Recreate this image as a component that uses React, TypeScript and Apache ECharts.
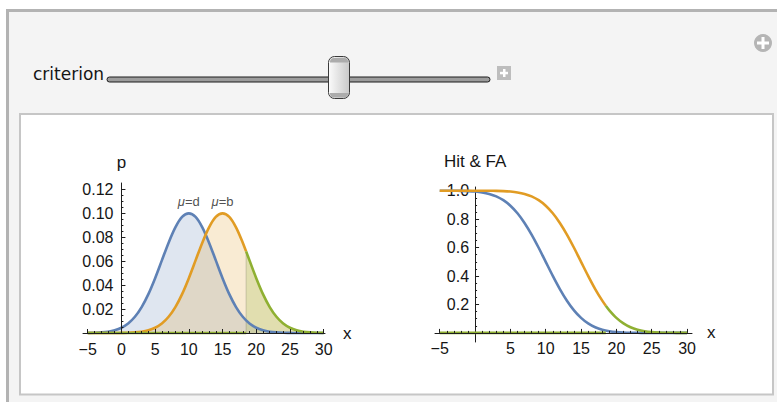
import React, { useEffect, useRef } from "react";
import * as echarts from "echarts";

// ---------- data ----------
const X_VALUES = [-5, -4, -3, -2, -1, 0, 1, 2, 3, 4, 5, 6, 7, 8, 9, 10, 11, 12, 13, 14, 15, 16, 17, 18, 19, 20, 21, 22, 23, 24, 25, 26, 27, 28, 29, 30];
// density of the "d" distribution (blue, mu = d)
const PDF_D = [0.0001, 0.0002, 0.0005, 0.0011, 0.0023, 0.0044, 0.0079, 0.0135, 0.0216, 0.0324, 0.0457, 0.0605, 0.0753, 0.088, 0.0967, 0.0997, 0.0967, 0.088, 0.0753, 0.0605, 0.0457, 0.0324, 0.0216, 0.0135, 0.0079, 0.0044, 0.0023, 0.0011, 0.0005, 0.0002, 0.0001, 0, 0, 0, 0, 0];
// density of the "b" distribution (orange, mu = b)
const PDF_B = [0, 0, 0, 0, 0, 0.0001, 0.0002, 0.0005, 0.0011, 0.0023, 0.0044, 0.0079, 0.0135, 0.0216, 0.0324, 0.0457, 0.0605, 0.0753, 0.088, 0.0967, 0.0997, 0.0967, 0.088, 0.0753, 0.0605, 0.0457, 0.0324, 0.0216, 0.0135, 0.0079, 0.0044, 0.0023, 0.0011, 0.0005, 0.0002, 0.0001];
// false-alarm rate (blue) and hit rate (orange) vs criterion
const FA_RATE = [0.9999, 0.9998, 0.9994, 0.9987, 0.997, 0.9938, 0.9878, 0.9772, 0.9599, 0.9332, 0.8944, 0.8413, 0.7734, 0.6915, 0.5987, 0.5, 0.4013, 0.3085, 0.2266, 0.1587, 0.1056, 0.0668, 0.0401, 0.0228, 0.0122, 0.0062, 0.003, 0.0013, 0.0006, 0.0002, 0.0001, 0, 0, 0, 0, 0];
const HIT_RATE = [1, 1, 1, 1, 1, 0.9999, 0.9998, 0.9994, 0.9987, 0.997, 0.9938, 0.9878, 0.9772, 0.9599, 0.9332, 0.8944, 0.8413, 0.7734, 0.6915, 0.5987, 0.5, 0.4013, 0.3085, 0.2266, 0.1587, 0.1056, 0.0668, 0.0401, 0.0228, 0.0122, 0.0062, 0.003, 0.0013, 0.0006, 0.0002, 0.0001];

const CRITERION = 18.5;
const PDF_B_AT_CRITERION = 0.068;
const HIT_AT_CRITERION = 0.1908;

const MU_LABELS = ["d", "b"];
const MU_VALUES = [10, 15];
const PEAK = [0.0997, 0.0997];

const X_MAJOR_LEFT = [-5, 0, 5, 10, 15, 20, 25, 30];
const X_MAJOR_RIGHT = [-5, 5, 10, 15, 20, 25, 30];
const X_MINOR = [-4, -3, -2, -1, 1, 2, 3, 4, 6, 7, 8, 9, 11, 12, 13, 14, 16, 17, 18, 19, 21, 22, 23, 24, 26, 27, 28, 29];
const Y_MAJOR_LEFT = [0.02, 0.04, 0.06, 0.08, 0.1, 0.12];
const Y_MINOR_LEFT = [0.005, 0.01, 0.015, 0.025, 0.03, 0.035, 0.045, 0.05, 0.055, 0.065, 0.07, 0.075, 0.085, 0.09, 0.095, 0.105, 0.11, 0.115];
const Y_MAJOR_RIGHT = [0.2, 0.4, 0.6, 0.8, 1.0];
const Y_MINOR_RIGHT = [0.05, 0.1, 0.15, 0.25, 0.3, 0.35, 0.45, 0.5, 0.55, 0.65, 0.7, 0.75, 0.85, 0.9, 0.95];

// ---------- styling ----------
const BLUE = "#5E81B5";
const ORANGE = "#E19C24";
const GREEN = "#8FB032";
const AXIS = "#1e1e1e";
const TEXT = "#151515";
const FONT = "'Liberation Sans', Arial, sans-serif";
const LW = 2.6;

const pairs = (ys: number[]) => X_VALUES.map((x, i) => [x, ys[i]]);
const before = (ys: number[], yc: number) => [
  ...X_VALUES.map((x, i) => [x, ys[i]]).filter((p) => p[0] < CRITERION),
  [CRITERION, yc],
];
const after = (ys: number[], yc: number) => [
  [CRITERION, yc],
  ...X_VALUES.map((x, i) => [x, ys[i]]).filter((p) => p[0] > CRITERION),
];

const fmtX = (v: number) => (v < 0 ? "\u2212" + Math.abs(v) : String(v));

// ---------- axes / grids builder ----------
const grids: any[] = [];
const xAxes: any[] = [];
const yAxes: any[] = [];
const hidden = (gridIndex: number, min: number, max: number) => ({ gridIndex, type: "value", show: false, min, max });

interface PanelSpec {
  left: number;
  top: number;
  width: number;
  height: number;
  xMin: number;
  xMax: number;
  yMin: number;
  yMax: number;
  xMajor: number[];
  yMajor: number[];
  yMinor: number[];
  yDigits: number;
  yName: string;
  yNameGap: number;
  yNameSize: number;
  yLabelMargin: number;
  yZ: number;
  xNameGap: number;
}

function addPanel(s: PanelSpec) {
  const sx = s.width / (s.xMax - s.xMin);
  const sy = s.height / (s.yMax - s.yMin);
  const x0 = s.left + (0 - s.xMin) * sx;
  const y0 = s.top + (s.yMax - 0) * sy;
  // plot grid (index returned)
  const plotIndex = grids.length;
  grids.push({ left: s.left, top: s.top, width: s.width, height: s.height });
  xAxes.push(hidden(plotIndex, s.xMin, s.xMax));
  yAxes.push(hidden(plotIndex, s.yMin, s.yMax));

  // y axis (major) drawn at x = 0
  let g = grids.length;
  grids.push({ left: x0, top: s.top, width: 20, height: s.height });
  xAxes.push(hidden(g, 0, 1));
  yAxes.push({
    gridIndex: g,
    type: "value",
    min: s.yMin,
    max: s.yMax,
    position: "left",
    z: s.yZ,
    axisLine: { show: true, onZero: false, lineStyle: { color: AXIS, width: 1 } },
    axisTick: { show: true, inside: true, length: 4, customValues: s.yMajor, lineStyle: { color: AXIS } },
    axisLabel: { show: true, customValues: s.yMajor, formatter: (v: number) => v.toFixed(s.yDigits), fontSize: 16, color: TEXT, fontFamily: FONT, margin: s.yLabelMargin },
    splitLine: { show: false },
    name: s.yName,
    nameLocation: "end",
    nameGap: s.yNameGap,
    nameTextStyle: { fontSize: s.yNameSize, color: TEXT, fontFamily: FONT, align: "center" },
  });
  // y axis minor ticks
  g = grids.length;
  grids.push({ left: x0, top: s.top, width: 20, height: s.height });
  xAxes.push(hidden(g, 0, 1));
  yAxes.push({
    gridIndex: g,
    type: "value",
    min: s.yMin,
    max: s.yMax,
    position: "left",
    z: s.yZ,
    axisLine: { show: false, onZero: false },
    axisTick: { show: true, inside: true, length: 2, customValues: s.yMinor, lineStyle: { color: AXIS } },
    axisLabel: { show: false },
    splitLine: { show: false },
  });
  // x axis (major) drawn at y = 0
  g = grids.length;
  grids.push({ left: s.left, top: y0 - 40, width: s.width, height: 40 });
  yAxes.push(hidden(g, 0, 1));
  xAxes.push({
    gridIndex: g,
    type: "value",
    min: s.xMin,
    max: s.xMax,
    position: "bottom",
    z: 10,
    axisLine: { show: true, onZero: false, lineStyle: { color: AXIS, width: 1 } },
    axisTick: { show: true, inside: true, length: 4, customValues: s.xMajor, lineStyle: { color: AXIS } },
    axisLabel: { show: true, customValues: s.xMajor, formatter: fmtX, fontSize: 16, color: TEXT, fontFamily: FONT, margin: 8 },
    splitLine: { show: false },
    name: "x",
    nameLocation: "end",
    nameGap: s.xNameGap,
    nameTextStyle: { fontSize: 17, color: TEXT, fontFamily: FONT, verticalAlign: "middle" },
  });
  // x axis minor ticks
  g = grids.length;
  grids.push({ left: s.left, top: y0 - 40, width: s.width, height: 40 });
  yAxes.push(hidden(g, 0, 1));
  xAxes.push({
    gridIndex: g,
    type: "value",
    min: s.xMin,
    max: s.xMax,
    position: "bottom",
    z: 10,
    axisLine: { show: false, onZero: false },
    axisTick: { show: true, inside: true, length: 2, customValues: X_MINOR, lineStyle: { color: AXIS } },
    axisLabel: { show: false },
    splitLine: { show: false },
  });
  return plotIndex;
}

const LEFT = addPanel({
  left: 83, top: 183, width: 242, height: 150,
  xMin: -5.7, xMax: 30.2, yMin: 0, yMax: 0.125,
  xMajor: X_MAJOR_LEFT, yMajor: Y_MAJOR_LEFT, yMinor: Y_MINOR_LEFT,
  yDigits: 2, yName: "p", yNameGap: 12, yNameSize: 17, yLabelMargin: 8, yZ: 10, xNameGap: 18,
});
const RIGHT = addPanel({
  left: 435, top: 187, width: 257, height: 155,
  xMin: -5.67, xMax: 30.7, yMin: -0.064, yMax: 1.026,
  xMajor: X_MAJOR_RIGHT, yMajor: Y_MAJOR_RIGHT, yMinor: Y_MINOR_RIGHT,
  yDigits: 1, yName: "Hit & FA", yNameGap: 17, yNameSize: 17, yLabelMargin: 6, yZ: 1, xNameGap: 15,
});

const line = (id: string, data: number[][], color: string, idx: number, z = 3) => ({
  id,
  type: "line",
  xAxisIndex: idx,
  yAxisIndex: idx,
  data,
  smooth: 0.3,
  showSymbol: false,
  symbol: "none",
  clip: false,
  silent: true,
  z,
  lineStyle: { color, width: LW },
});

const fill = (id: string, data: number[][], color: string) => ({
  id,
  type: "line",
  xAxisIndex: LEFT,
  yAxisIndex: LEFT,
  data,
  smooth: 0.3,
  showSymbol: false,
  symbol: "none",
  silent: true,
  z: 1,
  lineStyle: { width: 0, opacity: 0 },
  areaStyle: { color, opacity: 1 },
});

const pdfBFull = [...before(PDF_B, PDF_B_AT_CRITERION), ...after(PDF_B, PDF_B_AT_CRITERION).slice(1)];

const option: any = {
  animation: false,
  backgroundColor: "transparent",
  graphic: [
    { type: "rect", z: -10, shape: { x: 7.5, y: 10.5, width: 820, height: 440 }, style: { fill: "#f4f4f4", stroke: "#b3b3b3", lineWidth: 3 } },
    { type: "rect", z: -9, shape: { x: 20, y: 114, width: 753, height: 280.5 }, style: { fill: "#ffffff", stroke: "#c6c6c6", lineWidth: 2 } },
    { type: "circle", z: -8, shape: { cx: 763, cy: 43, r: 9 }, style: { fill: "#b5b5b5" } },
    { type: "rect", z: -7, shape: { x: 761.5, y: 37, width: 3, height: 12 }, style: { fill: "#ffffff" } },
    { type: "rect", z: -7, shape: { x: 757, y: 41.5, width: 12, height: 3 }, style: { fill: "#ffffff" } },
    { type: "text", z: -7, x: 33, y: 74, style: { text: "criterion", fontSize: 17, fontFamily: "'DejaVu Sans', sans-serif", fill: "#151515", verticalAlign: "middle", align: "left" } },
    { type: "rect", z: -7, shape: { x: 107, y: 77, width: 383, height: 5, r: 2.5 }, style: { fill: "#9c9c9c", stroke: "#1c1c1c", lineWidth: 1 } },
    { type: "rect", z: -6, shape: { x: 328.5, y: 56.5, width: 21, height: 42, r: 6 }, style: { fill: { type: "linear", x: 0, y: 0, x2: 1, y2: 0, colorStops: [{ offset: 0, color: "#fbfbfb" }, { offset: 1, color: "#c8c8c8" }] }, stroke: "#3a3a3a", lineWidth: 1 } },
    { type: "rect", z: -5, shape: { x: 330, y: 58, width: 18, height: 4.5, r: [4, 4, 0, 0] }, style: { fill: "#acacac" } },
    { type: "rect", z: -5, shape: { x: 330, y: 93, width: 18, height: 4.5, r: [0, 0, 4, 4] }, style: { fill: "#acacac" } },
    { type: "rect", z: -7, shape: { x: 497, y: 66, width: 14, height: 14 }, style: { fill: "#bdbdbd" } },
    { type: "rect", z: -6, shape: { x: 503, y: 69, width: 2.5, height: 8 }, style: { fill: "#ffffff" } },
    { type: "rect", z: -6, shape: { x: 500, y: 71.8, width: 8, height: 2.5 }, style: { fill: "#ffffff" } },
  ],
  grid: grids,
  xAxis: xAxes,
  yAxis: yAxes,
  series: [
    // left: densities
    fill("blueFill", pairs(PDF_D), "rgba(94,129,181,0.2)"),
    fill("orangeFill", pdfBFull, "rgba(225,156,36,0.2)"),
    fill("greenFill", after(PDF_B, PDF_B_AT_CRITERION), "rgba(143,176,50,0.22)"),
    {
      id: "criterionEdge",
      type: "line",
      xAxisIndex: LEFT,
      yAxisIndex: LEFT,
      data: [[CRITERION, 0], [CRITERION, PDF_B_AT_CRITERION]],
      showSymbol: false,
      symbol: "none",
      silent: true,
      z: 1,
      lineStyle: { color: "rgba(120,120,100,0.22)", width: 1.5 },
    },
    line("pdfD", pairs(PDF_D), BLUE, LEFT),
    line("pdfBLow", before(PDF_B, PDF_B_AT_CRITERION), ORANGE, LEFT),
    line("pdfBHigh", after(PDF_B, PDF_B_AT_CRITERION), GREEN, LEFT),
    line("zeroLeft", [[X_VALUES[0], 0], [CRITERION, 0]], GREEN, LEFT),
    {
      id: "muLabels",
      type: "scatter",
      xAxisIndex: LEFT,
      yAxisIndex: LEFT,
      symbolSize: 1,
      silent: true,
      z: 4,
      itemStyle: { color: "rgba(0,0,0,0)" },
      data: MU_VALUES.map((m, i) => ({ value: [m, PEAK[i]], name: MU_LABELS[i] })),
      label: {
        show: true,
        position: "top",
        distance: 5,
        formatter: (p: any) => `{m|μ}{n|=${p.name}}`,
        rich: {
          m: { fontStyle: "italic", fontSize: 13, fontFamily: FONT, color: "#222" },
          n: { fontSize: 13, fontFamily: FONT, color: "#222" },
        },
      },
    },
    // right: hit & false-alarm rates
    line("fa", pairs(FA_RATE), BLUE, RIGHT),
    line("hitLow", before(HIT_RATE, HIT_AT_CRITERION), ORANGE, RIGHT),
    line("hitHigh", after(HIT_RATE, HIT_AT_CRITERION), GREEN, RIGHT),
    line("zeroRight", [[X_VALUES[0], 0], [CRITERION, 0]], GREEN, RIGHT),
  ],
};

export default function App() {
  const ref = useRef<HTMLDivElement>(null);
  useEffect(() => {
    if (!ref.current) return;
    const chart = echarts.init(ref.current, null, { renderer: "svg" });
    chart.setOption(option);
    return () => chart.dispose();
  }, []);
  return (
    <div
      ref={ref}
      style={{ position: "fixed", left: 0, top: 0, width: 777, height: 402, background: "#ffffff" }}
    />
  );
}
